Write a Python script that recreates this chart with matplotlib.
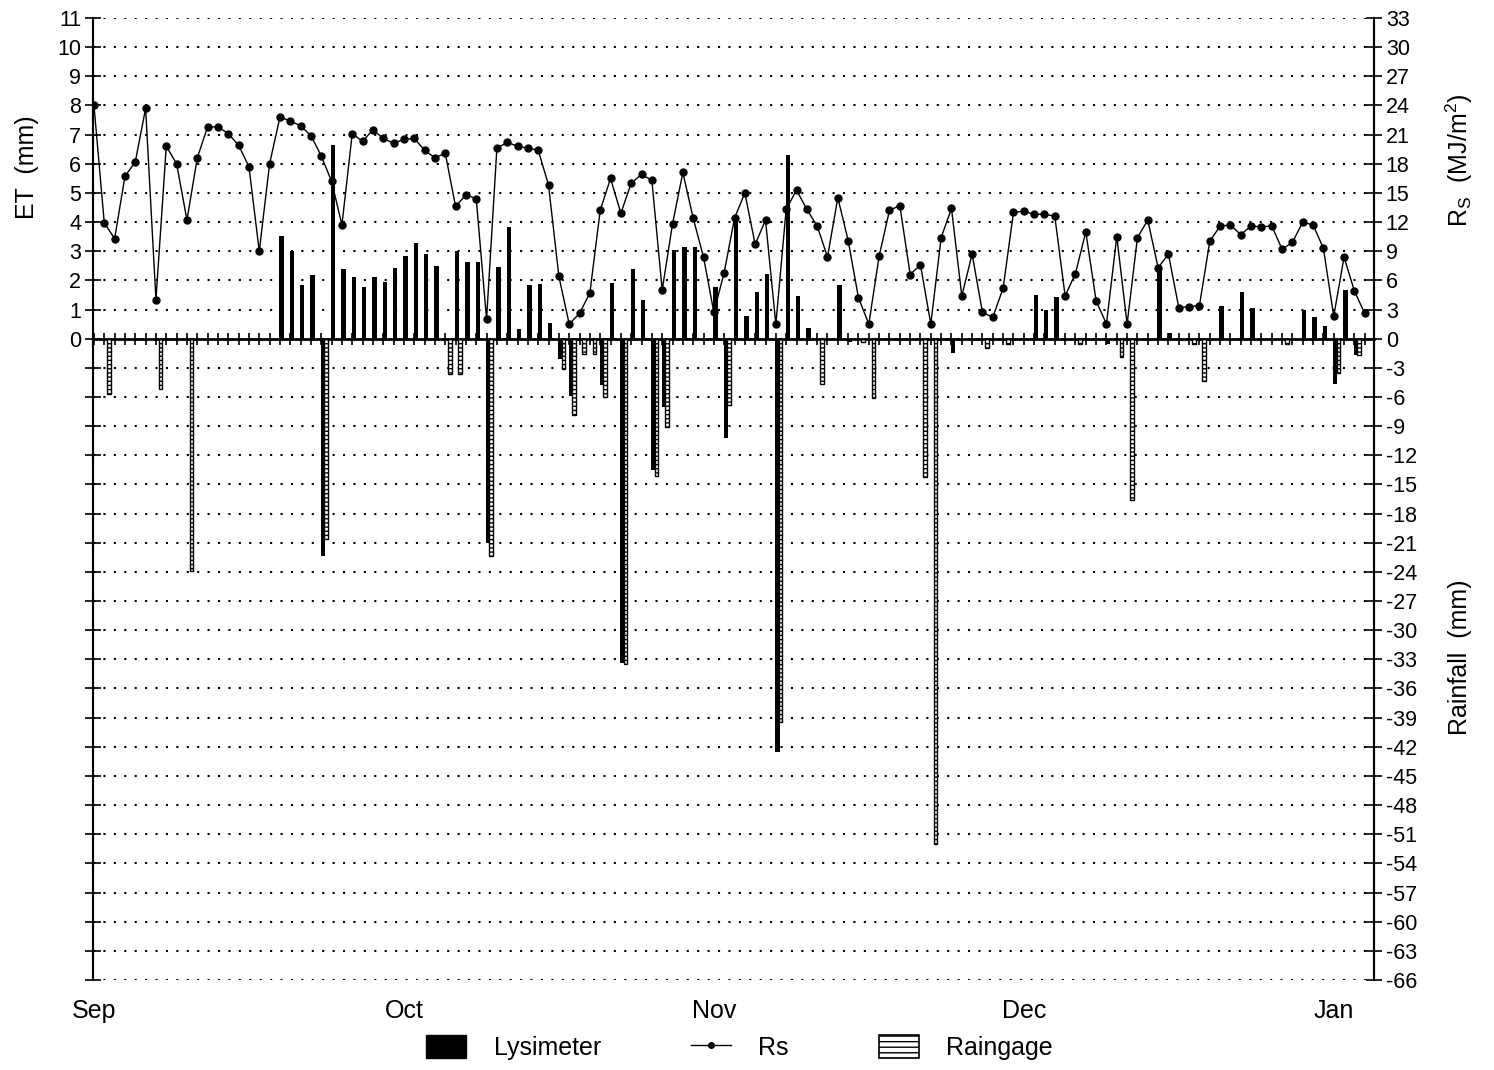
import matplotlib

matplotlib.use("Agg")
import matplotlib.pyplot as plt
import numpy as np
from matplotlib.lines import Line2D
from matplotlib.patches import Patch

plt.rcParams["font.family"] = ["Liberation Sans", "DejaVu Sans"]
plt.rcParams["hatch.linewidth"] = 1.0
plt.rcParams["axes.unicode_minus"] = False

# day index 0 = Sep 1
month_days = [0, 30, 60, 90, 120]
month_labels = ["Sep", "Oct", "Nov", "Dec", "Jan"]

# solar radiation, MJ/m2, one value per day
rs = [24.0, 11.9, 10.3, 16.7, 18.2, 23.7, 4.0, 19.8, 18.0, 12.2,
      18.6, 21.8, 21.8, 21.1, 19.9, 17.7, 9.0, 18.0, 22.8, 22.4,
      21.9, 20.9, 18.8, 16.2, 11.7, 21.1, 20.3, 21.5, 20.6, 20.1,
      20.5, 20.6, 19.4, 18.6, 19.1, 13.6, 14.8, 14.4, 2.0, 19.6,
      20.2, 19.8, 19.6, 19.4, 15.8, 6.4, 1.5, 2.6, 4.7, 13.2,
      16.5, 12.9, 16.0, 16.9, 16.3, 5.0, 11.8, 17.1, 12.4, 8.4,
      2.7, 6.8, 12.4, 15.0, 9.7, 12.2, 1.5, 13.3, 15.3, 13.3,
      11.6, 8.4, 14.5, 10.1, 4.2, 1.5, 8.5, 13.2, 13.7, 6.6,
      7.6, 1.5, 10.4, 13.4, 4.4, 8.7, 2.7, 2.2, 5.2, 13.0,
      13.1, 12.8, 12.8, 12.6, 4.4, 6.7, 11.0, 3.9, 1.5, 10.5,
      1.5, 10.4, 12.2, 7.3, 8.7, 3.2, 3.3, 3.4, 10.0, 11.6,
      11.7, 10.7, 11.6, 11.5, 11.6, 9.2, 9.9, 12.0, 11.7, 9.3,
      2.3, 8.4, 4.9, 2.6]

# lysimeter ET (mm), days with a non-zero reading
lys_days = [18, 19, 20, 21, 22, 23, 24, 25, 26, 27, 28, 29, 30, 31, 32, 33,
            35, 36, 37, 38, 39, 40, 41, 42, 43, 44, 45, 46, 49, 50, 51, 52,
            53, 54, 55, 56, 57, 58, 60, 61, 62, 63, 64, 65, 66, 67, 68, 69,
            72, 73, 83, 91, 92, 93, 98, 103, 104, 109, 111, 112, 117, 118,
            119, 120, 121, 122]
lys_et = [3.52, 2.99, 1.85, 2.19, -7.47, 6.64, 2.39, 2.10, 1.78, 2.12, 1.96,
          2.42, 2.84, 3.29, 2.91, 2.50, 3.02, 2.64, 2.64, -7.0, 2.46, 3.83,
          0.32, 1.85, 1.87, 0.54, -0.7, -1.97, -1.6, 1.91, -11.13, 2.38,
          1.34, -4.5, -2.33, 3.04, 3.16, 3.16, 1.76, -3.4, 4.10, 0.77, 1.60,
          2.21, -14.17, 6.31, 1.45, 0.35, 1.85, -0.1, -0.5, 1.51, 1.00, 1.44,
          -0.2, 2.48, 0.20, 1.13, 1.60, 1.06, 0.97, 0.74, 0.43, -1.57, 1.68,
          -0.57]

# raingage rainfall (mm)
rain_days = [1, 6, 9, 22, 34, 35, 38, 45, 46, 47, 48, 49, 51, 54, 55, 61,
             66, 70, 74, 75, 80, 81, 86, 88, 95, 99, 100, 106, 107, 115,
             120, 122]
rain_mm = [5.7, 5.2, 23.9, 20.6, 3.6, 3.6, 22.4, 3.1, 7.9, 1.6, 1.6, 6.0,
           33.5, 14.1, 9.1, 6.8, 39.5, 4.7, 0.3, 6.1, 14.2, 52.0, 1.0, 0.5,
           0.5, 1.9, 16.6, 0.5, 4.4, 0.5, 3.5, 1.7]

FS_TICK = 15.5
FS_LABEL = 18

fig = plt.figure(figsize=(14.94, 10.70), dpi=100, facecolor="white")
ax = fig.add_axes([0.0622, 0.0841, 0.8575, 0.8991])
ax2 = ax.twinx()

days = np.arange(len(rs))

ax.bar(np.array(lys_days) + 0.15, lys_et, width=0.42, color="black",
       linewidth=0, zorder=3)
ax2.bar(np.array(rain_days) + 0.45, -np.array(rain_mm), width=0.36,
        color="white", edgecolor="black", hatch="----", linewidth=1.0,
        zorder=3)
ax2.plot(days, rs, color="black", linewidth=1.0, marker="o", markersize=5,
         zorder=5)

ax.set_xlim(-0.1, 123.9)
ax.set_ylim(-22, 11)
ax2.set_ylim(-66, 33)

# left axis: ticks every mm, labels only for ET range
ax.set_yticks(range(-22, 12))
ax.set_yticklabels([str(v) if v >= 0 else "" for v in range(-22, 12)])
ax2.set_yticks(range(-66, 34, 3))
ax.tick_params(axis="y", direction="inout", length=11, width=1.2,
               labelsize=FS_TICK, pad=3)
ax2.tick_params(axis="y", direction="inout", length=11, width=1.2,
                labelsize=FS_TICK, pad=3)

ax.grid(axis="y", color="black", linestyle=(0, (1, 4)), linewidth=1.5)
ax.set_axisbelow(True)

for a in (ax, ax2):
    a.spines["top"].set_visible(False)
    a.spines["left"].set_linewidth(1.5)
    a.spines["right"].set_linewidth(1.5)
ax2.spines["bottom"].set_visible(False)

# zero line carries the daily ticks
ax.spines["bottom"].set_position(("data", 0))
ax.spines["bottom"].set_linewidth(2.0)
ax.spines["bottom"].set_zorder(6)
ax.set_xticks(days)
ax.set_xticklabels([])
ax.tick_params(axis="x", direction="inout", length=9, width=1.2)

sec = ax.secondary_xaxis(0.0)
sec.set_xticks(month_days)
sec.set_xticklabels(month_labels)
sec.tick_params(length=0, pad=14, labelsize=FS_LABEL)
sec.spines["bottom"].set_visible(False)

fig.text(0.018, 0.844, "ET  (mm)", rotation=90, ha="center", va="center",
         fontsize=FS_LABEL)
fig.text(0.977, 0.85, r"R$_\mathregular{S}$  (MJ/m$^\mathregular{2}$)",
         rotation=90, ha="center", va="center", fontsize=FS_LABEL)
fig.text(0.977, 0.386, "Rainfall  (mm)", rotation=90, ha="center",
         va="center", fontsize=FS_LABEL)

handles = [
    Patch(facecolor="black", edgecolor="black"),
    Line2D([], [], color="black", linewidth=1.0, marker="o", markersize=4),
    Patch(facecolor="white", edgecolor="black", hatch="---", linewidth=1.2),
]
fig.legend(handles, ["Lysimeter", "Rs", "Raingage"], loc="center",
           bbox_to_anchor=(0.495, 0.021), ncol=3, frameon=False,
           fontsize=FS_LABEL, handlelength=1.6, handleheight=1.0,
           handletextpad=1.1, columnspacing=3.6)

fig.savefig("out.png", dpi=100, facecolor="white")
